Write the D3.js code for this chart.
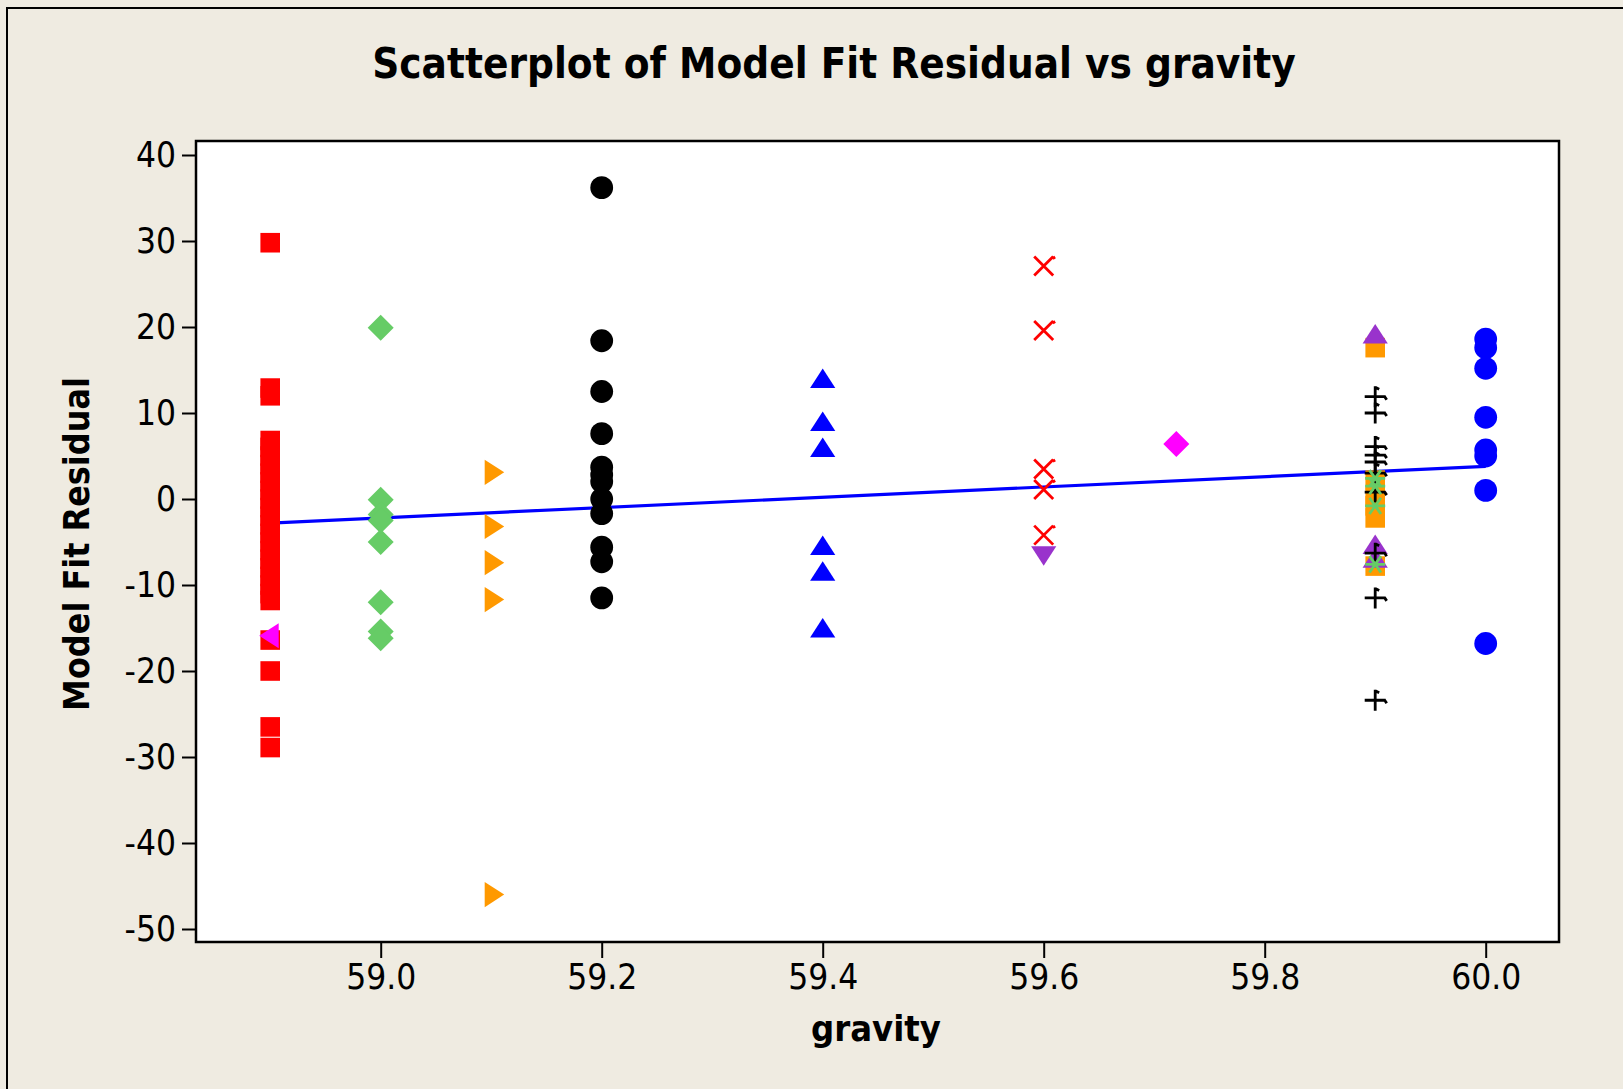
<!DOCTYPE html>
<html><head><meta charset="utf-8">
<script src="https://cdn.jsdelivr.net/npm/d3@7"></script>
<style>
html,body{margin:0;padding:0;background:#EFEBE1;}
text{font-family:Tahoma,"DejaVu Sans Condensed","DejaVu Sans",sans-serif;}
</style></head>
<body>
<svg id="chart" width="1623" height="1089"></svg>
<script>
// ---- data ----
const xTicks = [59.0, 59.2, 59.4, 59.6, 59.8, 60.0];
const yTicks = [40, 30, 20, 10, 0, -10, -20, -30, -40, -50];
const gravityLevels = [58.9, 59.0, 59.1, 59.2, 59.4, 59.6, 59.72, 59.9, 60.0];

const resid589Squares = [29.8, 12.9, 12.0, 6.8, 6.0, 5.0, 4.0, 3.0, 2.0, 1.0, 0.0, -1.0, -2.0, -3.0, -4.0, -5.0, -6.0, -7.0, -8.0, -9.0, -10.0, -11.0, -11.8, -16.4, -20.0, -26.5, -28.9];
const resid589LeftTri = [-15.9];
const resid590Diamonds = [19.9, -0.1, -1.8, -2.5, -5.0, -12.0, -15.4, -16.2];
const resid591RightTri = [3.1, -3.2, -7.4, -11.7, -46.0];
const resid592Circles = [36.2, 18.4, 12.5, 7.6, 3.7, 2.8, 2.0, 0.0, -1.7, -5.6, -7.3, -11.5];
const resid594Triangles = [14.0, 9.0, 6.0, -5.4, -8.4, -15.0];
const resid596Crosses = [27.1, 19.6, 3.5, 1.1, -4.2];
const resid596DownTri = [-6.6];
const resid5972Diamond = [6.4];
const resid599Squares = [17.6, 2.2, 0.2, -0.8, -2.2, -7.8];
const resid599UpTri = [19.2, -5.3, -6.9];
const resid599Plus = [11.9, 10.0, 6.1, 5.1, 4.3, 3.0, 0.8, -6.3, -11.5, -23.4];
const resid599Asterisk = [2.4, 1.5, -0.8, -7.6];
const resid600Circles = [18.6, 17.6, 15.2, 9.5, 5.7, 5.0, 1.0, -16.8];

const fitGravity = [58.9, 60.0];
const fitResidual = [-2.8, 3.8];

// ---- series (data + style) ----
const series = [
  {g: gravityLevels[0], v: resid589Squares, shape: "square", color: "#FF0000"},
  {g: gravityLevels[0], v: resid589LeftTri, shape: "triLeft", color: "#FF00FF"},
  {g: gravityLevels[1], v: resid590Diamonds, shape: "diamond", color: "#66CC66"},
  {g: gravityLevels[2], v: resid591RightTri, shape: "triRight", color: "#FF9900"},
  {g: gravityLevels[3], v: resid592Circles, shape: "circle", color: "#000000"},
  {g: gravityLevels[4], v: resid594Triangles, shape: "triUp", color: "#0000FF"},
  {g: gravityLevels[5], v: resid596Crosses, shape: "x", color: "#FF0000"},
  {g: gravityLevels[5], v: resid596DownTri, shape: "triDown", color: "#9933CC"},
  {g: gravityLevels[6], v: resid5972Diamond, shape: "diamond", color: "#FF00FF"},
  {g: gravityLevels[7], v: resid599Squares, shape: "square", color: "#FF9900"},
  {g: gravityLevels[7], v: resid599UpTri, shape: "triUp", color: "#9933CC"},
  {g: gravityLevels[7], v: resid599Plus, shape: "plus", color: "#000000"},
  {g: gravityLevels[7], v: resid599Asterisk, shape: "asterisk", color: "#66CC66"},
  {g: gravityLevels[8], v: resid600Circles, shape: "circle", color: "#0000FF"}
];

// ---- layout ----
const svg = d3.select("#chart");
const L = 196, R = 1559, T = 141, B = 942;
const x = d3.scaleLinear().domain([59.0, 60.0]).range([380.7, 1485.7]);
const y = d3.scaleLinear().domain([40, -50]).range([155, 929]);

// outer border
svg.append("rect").attr("x", 7).attr("y", 8).attr("width", 1640).attr("height", 1100)
  .attr("fill", "#EFEBE1").attr("stroke", "#000").attr("stroke-width", 2);

// plot area
svg.append("rect").attr("x", L).attr("y", T).attr("width", R - L).attr("height", B - T)
  .attr("fill", "#fff");

// fit line
svg.append("line")
  .attr("x1", x(fitGravity[0])).attr("y1", y(fitResidual[0]))
  .attr("x2", x(fitGravity[1])).attr("y2", y(fitResidual[1]))
  .attr("stroke", "#0000FF").attr("stroke-width", 3.2);

function shapePath(s) {
  const p = d3.path();
  if (s === "square") { const h = 9.8; p.rect(-h, -h, 2*h, 2*h); }
  else if (s === "circle") { p.arc(0, 0, 11.4, 0, 2*Math.PI); }
  else if (s === "diamond") { const h = 13; p.moveTo(0,-h); p.lineTo(h,0); p.lineTo(0,h); p.lineTo(-h,0); p.closePath(); }
  else if (s === "triUp") { p.moveTo(0,-10); p.lineTo(12.6,9.5); p.lineTo(-12.6,9.5); p.closePath(); }
  else if (s === "triDown") { p.moveTo(0,10); p.lineTo(12.6,-9.5); p.lineTo(-12.6,-9.5); p.closePath(); }
  else if (s === "triRight") { p.moveTo(13,0); p.lineTo(-6.5,12.6); p.lineTo(-6.5,-12.6); p.closePath(); }
  else if (s === "triLeft") { p.moveTo(-11,0); p.lineTo(8.5,12.6); p.lineTo(8.5,-12.6); p.closePath(); }
  else if (s === "x") { const h = 9.5; p.moveTo(-h,-h); p.lineTo(h,h); p.moveTo(-h,h); p.lineTo(h,-h); p.moveTo(h,-h); p.lineTo(h+1.5,-h+2.5); }
  else if (s === "plus") { const h = 10.5; p.moveTo(-h,0); p.lineTo(h,0); p.moveTo(0,-h); p.lineTo(0,h); p.moveTo(0,-h+1); p.lineTo(4,-h+3); p.moveTo(h-1,0); p.lineTo(h+1,3); }
  else if (s === "asterisk") { const h = 10; for (const a of [0, 55, 125]) { const r = a*Math.PI/180; p.moveTo(-h*Math.cos(r), -h*Math.sin(r)); p.lineTo(h*Math.cos(r), h*Math.sin(r)); } }
  return p.toString();
}
const stroked = new Set(["x", "plus", "asterisk"]);

const gPts = svg.append("g");
series.forEach(s => {
  gPts.append("g").selectAll("path").data(s.v).join("path")
    .attr("transform", d => `translate(${x(s.g)},${y(d)})`)
    .attr("d", shapePath(s.shape))
    .attr("fill", stroked.has(s.shape) ? "none" : s.color)
    .attr("stroke", stroked.has(s.shape) ? s.color : "none")
    .attr("stroke-width", 2.8);
});

// frame
svg.append("rect").attr("x", L).attr("y", T).attr("width", R - L).attr("height", B - T)
  .attr("fill", "none").attr("stroke", "#000").attr("stroke-width", 2.5);

// axes
const fontFam = 'Tahoma,"DejaVu Sans Condensed","DejaVu Sans",sans-serif';
const xAxis = d3.axisBottom(x).tickValues(xTicks).tickFormat(d => d.toFixed(1)).tickSize(16).tickPadding(6);
const gx = svg.append("g").attr("transform", `translate(0,${B})`).call(xAxis);
gx.select(".domain").remove();
gx.selectAll("line").attr("stroke", "#000").attr("stroke-width", 2);
gx.selectAll("text").attr("font-size", 35).attr("fill", "#000").attr("font-family", fontFam);

const yAxis = d3.axisLeft(y).tickValues(yTicks).tickFormat(d => String(d)).tickSize(14).tickPadding(6);
const gy = svg.append("g").attr("transform", `translate(${L},0)`).call(yAxis);
gy.select(".domain").remove();
gy.selectAll("line").attr("stroke", "#000").attr("stroke-width", 2);
gy.selectAll("text").attr("font-size", 35).attr("fill", "#000").attr("font-family", fontFam);

// title and labels
svg.append("text").attr("x", 834).attr("y", 78).attr("text-anchor", "middle")
  .attr("font-size", 41.8).attr("font-weight", "bold").attr("fill", "#000")
  .text("Scatterplot of Model Fit Residual vs gravity");
svg.append("text").attr("x", 876).attr("y", 1041).attr("text-anchor", "middle")
  .attr("font-size", 36).attr("font-weight", "bold").attr("fill", "#000")
  .text("gravity");
svg.append("text").attr("transform", "translate(89,544) rotate(-90)").attr("text-anchor", "middle")
  .attr("font-size", 35.5).attr("font-weight", "bold").attr("fill", "#000")
  .text("Model Fit Residual");
</script>
</body></html>
